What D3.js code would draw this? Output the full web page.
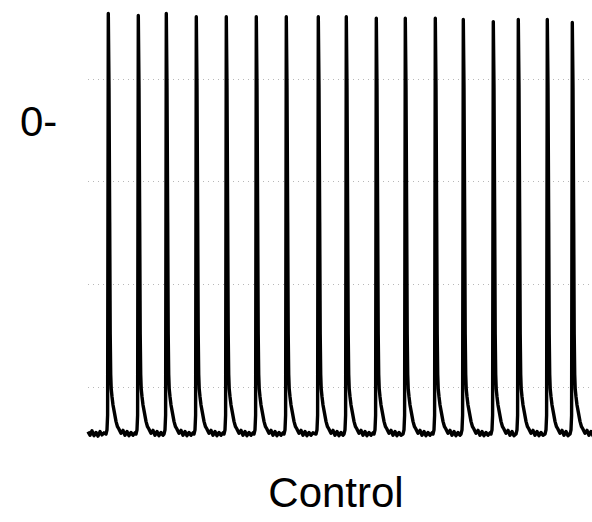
<!DOCTYPE html>
<html>
<head>
<meta charset="utf-8">
<script src="https://cdn.jsdelivr.net/npm/d3@7"></script>
<style>
  body { margin: 0; background: #fff; }
  svg { display: block; }
  .trace { fill: none; stroke: #000; stroke-width: 3.4; stroke-linejoin: round; }
  .grid line { stroke: #b8b8b8; stroke-width: 1; stroke-dasharray: 1,4; }
  .lbl { font-family: "Liberation Sans", Arial, sans-serif; fill: #000; }
</style>
</head>
<body>
<div id="chart"></div>
<script>
// spike onset times (ms) and peak voltages (mV)
var spikeTimes = [20, 50, 78, 108, 138, 168, 198, 230, 258, 288, 317, 347, 375, 405, 430, 459, 484];
var spikePeaks = [26.0, 25.5, 26.0, 25.2, 25.2, 25.2, 25.2, 25.2, 25.2, 24.8, 24.8, 24.8, 24.5, 24.0, 24.5, 24.5, 23.8];

// one action potential, time relative to onset (ms) and voltage (mV); null = the peak
var spikeShapeT = [-2, -1, -0.4, 0.3, 1.0, 1.7, 2.2, 2.7, 3.2, 4.0, 5, 6.5, 8, 9.5, 11, 13, 15, 17, 19, 21, 23, 25, 27];
var spikeShapeV = [-76.6, -75.6, -72, null, 8, -25, -52, -62, -65.5, -67.5, -69.5, -71.5, -73.5, -74.8, -75.4, -76.4, -75.7, -76.9, -76.0, -77.0, -76.2, -76.9, -76.3];

// stretch of trace before the first spike
var leadT = [0, 2, 4, 6, 8, 10, 12, 14, 16];
var leadV = [-76.0, -76.9, -75.8, -77.0, -76.2, -77.1, -76.0, -76.8, -76.3];

// faint dotted guide levels (mV)
var gridLevels = [10, -15, -40, -65];

var width = 592, height = 522;

var svg = d3.select("#chart").append("svg")
    .attr("width", width)
    .attr("height", height);

svg.append("rect").attr("width", width).attr("height", height).attr("fill", "#fff");

var xScale = d3.scaleLinear().domain([0, 504]).range([88, 592]);
var yScale = d3.scaleLinear().domain([-80, 30]).range([448, -3]);

// guide lines
svg.append("g").attr("class", "grid")
    .selectAll("line")
    .data(gridLevels)
    .enter().append("line")
    .attr("x1", xScale(0))
    .attr("x2", xScale(504))
    .attr("y1", function(d) { return Math.round(yScale(d)) + 0.5; })
    .attr("y2", function(d) { return Math.round(yScale(d)) + 0.5; });

// assemble the trace points
var points = [];
leadT.forEach(function(t, i) { points.push([t, leadV[i]]); });
spikeTimes.forEach(function(t0, i) {
    var next = i < spikeTimes.length - 1 ? spikeTimes[i + 1] : 530;
    spikeShapeT.forEach(function(dt, j) {
        if (t0 + dt < next - 2) {
            var v = spikeShapeV[j] === null ? spikePeaks[i] : spikeShapeV[j];
            points.push([t0 + dt, v]);
        }
    });
});

var line = d3.line()
    .x(function(d) { return xScale(d[0]); })
    .y(function(d) { return yScale(d[1]); });

svg.append("path")
    .datum(points)
    .attr("class", "trace")
    .attr("d", line);

// zero-level label
svg.append("text")
    .attr("class", "lbl")
    .attr("x", 20)
    .attr("y", yScale(0) + 16)
    .style("font-size", "42px")
    .text("0-");

// condition label
svg.append("text")
    .attr("class", "lbl")
    .attr("x", 336)
    .attr("y", 507)
    .attr("text-anchor", "middle")
    .style("font-size", "42px")
    .text("Control");
</script>
</body>
</html>
